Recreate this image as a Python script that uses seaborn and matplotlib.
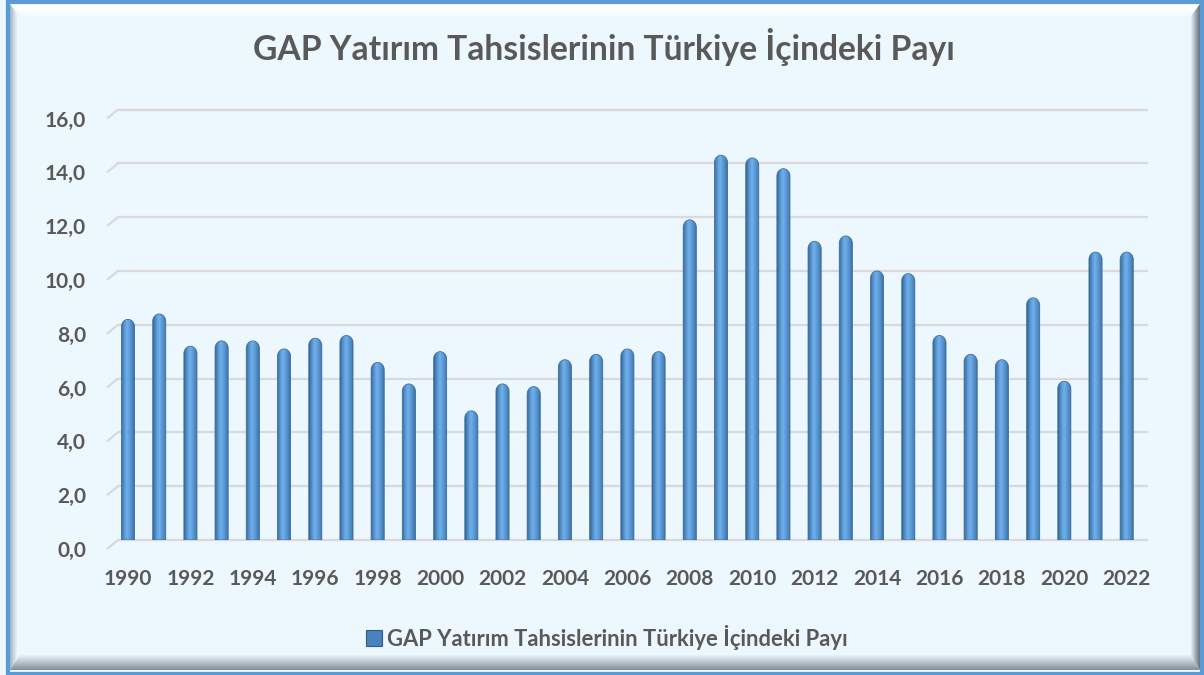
import numpy as np
import pandas as pd
import matplotlib
matplotlib.use("Agg")
import matplotlib.pyplot as plt
import seaborn as sns
from matplotlib.patches import Polygon, Rectangle, Patch
from matplotlib.colors import LinearSegmentedColormap
import matplotlib.transforms as mtrans

# ---------------- data ----------------
years = [str(y) for y in range(1990, 2023)]
values = [8.2, 8.4, 7.2, 7.4, 7.4, 7.1, 7.5, 7.6, 6.6, 5.8, 7.0, 4.8,
          5.8, 5.7, 6.7, 6.9, 7.1, 7.0, 11.9, 14.3, 14.2, 13.8, 11.1, 11.3,
          10.0, 9.9, 7.6, 6.9, 6.7, 9.0, 5.9, 10.7, 10.7]
yticks = [0, 2, 4, 6, 8, 10, 12, 14, 16]
ytick_labels = ["0,0", "2,0", "4,0", "6,0", "8,0", "10,0", "12,0", "14,0", "16,0"]
xtick_labels = years[::2]
title = "GAP Yatırım Tahsislerinin Türkiye İçindeki Payı"
series_name = "GAP Yatırım Tahsislerinin Türkiye İçindeki Payı"

W, H = 1204, 675
TXT = "#595959"

sns.set_theme(style="white")
plt.rcParams['font.family'] = ['Lato', 'DejaVu Sans']

fig = plt.figure(figsize=(W / 100, H / 100), dpi=100, facecolor='#ecf7fe')


def grad_poly(ax, pts, colors, horizontal=True, zorder=1):
    poly = Polygon(pts, closed=True, facecolor='none', edgecolor='none',
                   transform=ax.transData)
    ax.add_patch(poly)
    cmap = LinearSegmentedColormap.from_list('g', colors)
    g = np.linspace(0, 1, 256)
    img = g[None, :] if horizontal else g[:, None]
    xs = [p[0] for p in pts]
    ys = [p[1] for p in pts]
    im = ax.imshow(img, cmap=cmap, extent=(min(xs), max(xs), max(ys), min(ys)),
                   aspect='auto', interpolation='bilinear', origin='upper',
                   zorder=zorder)
    im.set_clip_path(poly)
    return im


# ---------------- frame (decoration) ----------------
bg = fig.add_axes([0, 0, 1, 1], zorder=0)
bg.set_xlim(0, W)
bg.set_ylim(H, 0)
bg.axis('off')
grad_poly(bg, [(10, 4), (1200, 4), (1191, 16), (22, 16)],
          ['#ffffff', '#f7fbfe'], horizontal=False)
grad_poly(bg, [(10, 4), (17, 14), (17, 660), (10, 670)],
          ['#9fb4c6', '#e9f5fc'], horizontal=True)
grad_poly(bg, [(1200, 4), (1191, 16), (1191, 656), (1200, 670)],
          ['#e3eef5', '#65707b'], horizontal=True)
grad_poly(bg, [(10, 670), (20, 655), (1191, 655), (1200, 670)],
          ['#e9f4fa', '#858f98'], horizontal=False)
bg.add_patch(Rectangle((8, 2), 1194, 671.5, fill=False, edgecolor='#5b9bd5',
                       lw=3.0, clip_on=False))
bg.set_xlim(0, W)
bg.set_ylim(H, 0)

# ---------------- main axes ----------------
y0_px, y16_px = 540, 109.5
x_left_px, x_right_px = 118, 1147
ax = fig.add_axes([x_left_px / W, (H - y0_px) / H, (x_right_px - x_left_px) / W,
                   (y0_px - y16_px) / H], zorder=1)
ax.set_facecolor('none')

df = pd.DataFrame({'Yıl': years, 'Pay': values})
sns.barplot(data=df, x='Yıl', y='Pay', color='#5b9bd5', width=0.42,
            saturation=1, ax=ax, zorder=2)

xmin, xmax = -0.32, 32.65
ax.set_xlim(xmin, xmax)
ax.set_ylim(0, 16)
ppx = (x_right_px - x_left_px) / (xmax - xmin)   # px per x unit
ppy = (y0_px - y16_px) / 16.0                     # px per y unit

bar_colors = ['#35648f', '#4b85bf', '#5f9edb', '#72b0ea', '#64a2de',
              '#5593cf', '#4880b7', '#33608a']
ry = 7.5 / ppy
for p in list(ax.patches):
    x0 = p.get_x()
    w = p.get_width()
    h = p.get_height()
    p.set_visible(False)
    t = np.linspace(0, np.pi, 40)
    cap_x = x0 + w / 2 * (1 - np.cos(t))
    cap_y = h - ry + ry * np.sin(t)
    pts = [(x0, 0)] + list(zip(cap_x, cap_y)) + [(x0 + w, 0)]
    poly = Polygon(pts, closed=True, facecolor='none', edgecolor='none',
                   transform=ax.transData)
    ax.add_patch(poly)
    cmap = LinearSegmentedColormap.from_list('bar', bar_colors)
    im = ax.imshow(np.linspace(0, 1, 128)[None, :], cmap=cmap,
                   extent=(x0, x0 + w, 0, h), aspect='auto',
                   interpolation='bilinear', zorder=2)
    im.set_clip_path(poly)
    ax.add_patch(Polygon(pts, closed=True, facecolor='none',
                         edgecolor='#3f6f9c', lw=0.6, zorder=3))

ax.set_xlim(xmin, xmax)
ax.set_ylim(0, 16)

# gridlines with slanted left ends (3-D wall look)
for v in yticks:
    ax.axhline(v, color='#d9d9d9', lw=1.6, zorder=0.5, clip_on=False)
    ax.plot([xmin - 11 / ppx, xmin], [v - 9 / ppy, v], color='#d9d9d9',
            lw=1.6, clip_on=False, zorder=0.5, solid_capstyle='butt')

for s in ax.spines.values():
    s.set_visible(False)

ax.set_xticks(range(0, len(years), 2))
ax.set_xticklabels(xtick_labels)
ax.set_yticks(yticks)
ax.set_yticklabels(ytick_labels)
ax.tick_params(axis='x', length=0, pad=21, labelsize=15, labelcolor=TXT)
ax.tick_params(axis='y', length=0, pad=23, labelsize=15, labelcolor=TXT)
offset = mtrans.ScaledTranslation(0, -0.09, fig.dpi_scale_trans)
for lab in ax.get_yticklabels():
    lab.set_fontweight('bold')
    lab.set_transform(lab.get_transform() + offset)
for lab in ax.get_xticklabels():
    lab.set_fontweight('bold')
ax.set_xlabel('')
ax.set_ylabel('')
ax.grid(False)

fig.text(604 / W, 1 - 47 / H, title, ha='center', va='center', fontsize=24.2,
         fontweight='bold', color=TXT)

handle = Patch(facecolor='#4a82bb', edgecolor='#2f5d8a', lw=0.8)
fig.legend(handles=[handle], labels=[series_name], loc='center',
           bbox_to_anchor=(607 / W, 1 - 637 / H), frameon=False,
           prop={'weight': 'bold', 'size': 15.8}, labelcolor=TXT,
           handlelength=0.7, handleheight=0.7, handletextpad=0.25)

fig.savefig('out.png', dpi=100, facecolor=fig.get_facecolor())
